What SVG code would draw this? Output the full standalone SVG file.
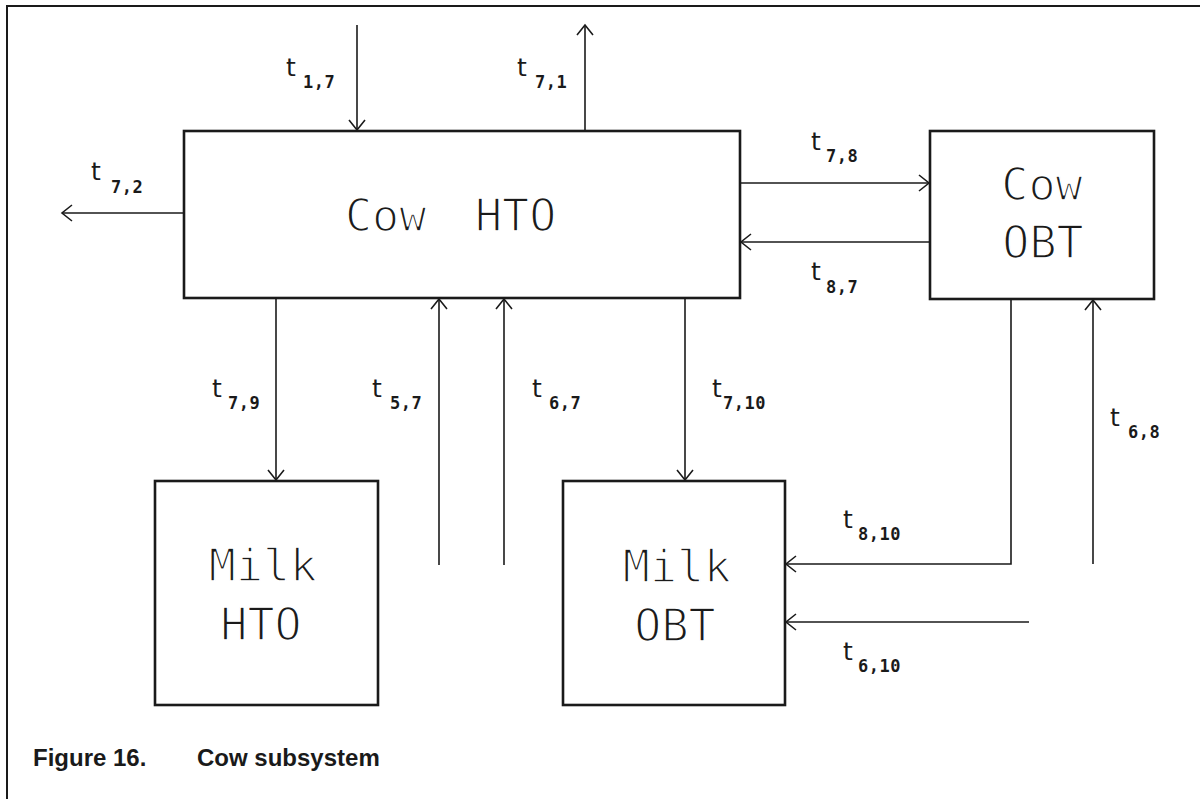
<svg xmlns="http://www.w3.org/2000/svg" width="1200" height="799" viewBox="0 0 1200 799">
  <style>
    .box { fill: #fff; stroke: #1a1a1a; stroke-width: 2.6; }
    .frame { fill: none; stroke: #1a1a1a; stroke-width: 2; }
    .flow { fill: none; stroke: #1a1a1a; stroke-width: 1.6; marker-end: url(#open); }
    .name { font-family: "DejaVu Sans Mono", monospace; font-size: 45px; fill: #1a1a1a; stroke: #fff; stroke-width: 1.6; }
    .t { font-family: "DejaVu Sans", sans-serif; font-size: 25px; fill: #1a1a1a; }
    .sub { font-family: "DejaVu Sans Mono", monospace; font-weight: bold; font-size: 17px; letter-spacing: 0.5px; fill: #1a1a1a; }
    .caption { font-family: "Liberation Sans", Arial, sans-serif; font-weight: bold; font-size: 24px; fill: #1a1a1a; }
  </style>
  <defs>
    <marker id="open" viewBox="-12 -10 14 20" refX="0" refY="0" markerWidth="14" markerHeight="20" markerUnits="userSpaceOnUse" orient="auto">
      <path d="M-10,-8 L0,0 L-10,8" fill="none" stroke="#1a1a1a" stroke-width="1.6"/>
    </marker>
  </defs>

  <rect width="1200" height="799" fill="#fff"/>
  <path class="frame" d="M7,799 V6 H1200"/>

  <!-- compartments -->
  <g id="cow-hto">
    <rect class="box" x="184" y="131" width="556" height="167"/>
    <text class="name" x="345" y="231">Cow</text>
    <text class="name" x="475" y="231">HTO</text>
  </g>
  <g id="cow-obt">
    <rect class="box" x="930" y="131" width="224" height="168"/>
    <text class="name" x="1042" y="200" text-anchor="middle">Cow</text>
    <text class="name" x="1043" y="258" text-anchor="middle">OBT</text>
  </g>
  <g id="milk-hto">
    <rect class="box" x="155" y="481" width="223" height="224"/>
    <text class="name" x="263" y="581" text-anchor="middle">Milk</text>
    <text class="name" x="261" y="640" text-anchor="middle">HTO</text>
  </g>
  <g id="milk-obt">
    <rect class="box" x="563" y="481" width="222" height="224"/>
    <text class="name" x="677" y="582" text-anchor="middle">Milk</text>
    <text class="name" x="675" y="641" text-anchor="middle">OBT</text>
  </g>

  <!-- transfer paths -->
  <g id="connectors">
    <path class="flow" d="M357,25 V130"/>
    <path class="flow" d="M585,130 V25"/>
    <path class="flow" d="M184,213 H62"/>
    <path class="flow" d="M740,183 H929"/>
    <path class="flow" d="M930,242 H741"/>
    <path class="flow" d="M276,298 V480"/>
    <path class="flow" d="M439,565 V299"/>
    <path class="flow" d="M504,565 V299"/>
    <path class="flow" d="M685,298 V480"/>
    <path class="flow" d="M1011,299 V564 H786"/>
    <path class="flow" d="M1093,564 V300"/>
    <path class="flow" d="M1029,622 H786"/>
  </g>

  <!-- transfer labels -->
  <g id="labels">
    <text class="t" x="286" y="76">t</text><text class="sub" x="303" y="88">1,7</text>
    <text class="t" x="517" y="76">t</text><text class="sub" x="535" y="88">7,1</text>
    <text class="t" x="91" y="180">t</text><text class="sub" x="111" y="193">7,2</text>
    <text class="t" x="811" y="150">t</text><text class="sub" x="826" y="162">7,8</text>
    <text class="t" x="811" y="280">t</text><text class="sub" x="826" y="293">8,7</text>
    <text class="t" x="212" y="397">t</text><text class="sub" x="228" y="409">7,9</text>
    <text class="t" x="372" y="397">t</text><text class="sub" x="390" y="409">5,7</text>
    <text class="t" x="532" y="397">t</text><text class="sub" x="549" y="409">6,7</text>
    <text class="t" x="712" y="397">t</text><text class="sub" x="723" y="409">7,10</text>
    <text class="t" x="1110" y="426">t</text><text class="sub" x="1128" y="438">6,8</text>
    <text class="t" x="843" y="528">t</text><text class="sub" x="858" y="540">8,10</text>
    <text class="t" x="843" y="660">t</text><text class="sub" x="858" y="672">6,10</text>
  </g>

  <g id="caption">
    <text class="caption" x="33" y="766">Figure 16.</text>
    <text class="caption" x="197" y="766">Cow subsystem</text>
  </g>
</svg>
